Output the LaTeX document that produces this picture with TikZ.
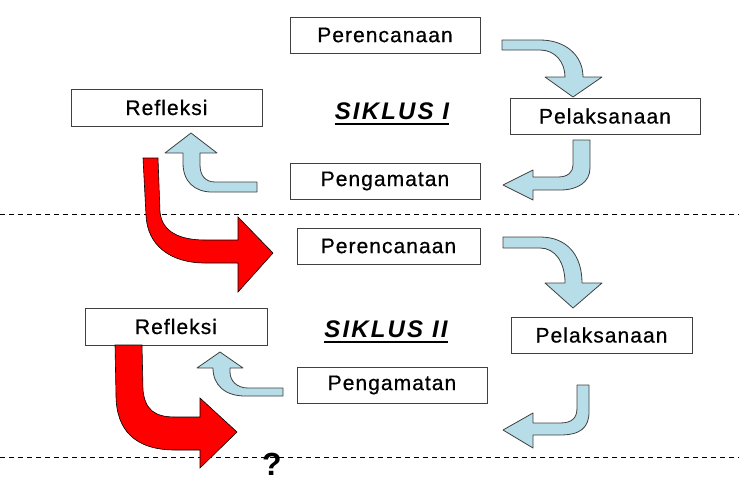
\documentclass[tikz,border=0pt]{standalone}
\usepackage{fontspec}
\setmainfont{Liberation Sans}
\usetikzlibrary{positioning}

\definecolor{lightcyan}{HTML}{B7DEE8}
\definecolor{boxline}{HTML}{404040}

\tikzset{
    box/.style={draw=boxline, line width=1pt, fill=white, inner sep=0pt,
        minimum height=36pt, font=\fontsize{21}{25}\selectfont\addfontfeatures{LetterSpace=5,FakeBold=0.6}},
    bluearrow/.style={draw=boxline, line width=0.8pt, fill=lightcyan, line join=round},
    redarrow/.style={draw=black, line width=0.6pt, fill=red, line join=miter},
    cycletitle/.style={inner sep=0pt,
        font=\fontsize{24}{28}\selectfont\bfseries\itshape\addfontfeatures{LetterSpace=9}},
    titleline/.style={line width=2pt},
    cutline/.style={dashed, dash pattern=on 5pt off 4pt, line width=0.8pt}
}

\begin{document}
\begin{tikzpicture}[x=1pt,y=-1pt]
    \useasboundingbox (0,0) rectangle (739,482);
    % Separators
    \coordinate (cutA west) at (0,214);
    \coordinate (cutA east) at (739,214);
    \coordinate (cutB west) at (0,457);
    \coordinate (cutB east) at (739,457);
    \draw[cutline] (cutA west) -- (cutA east);
    \draw[cutline] (cutB west) -- (cutB east);
    % Siklus I
    \node[box, minimum width=190pt] (per1) at (385,35)    {Perencanaan};
    \node[box, minimum width=190pt] (pel1) at (605,116)   {Pelaksanaan};
    \node[box, minimum width=190pt] (pen1) at (385,181)   {Pengamatan};
    \node[box, minimum width=191pt, minimum height=37pt] (ref1) at (166.5,107.5) {Refleksi};
    \node[cycletitle] (sik1) at (392,111) {SIKLUS I};
    \draw[titleline] ([yshift=-5pt]sik1.base west) -- ([yshift=-5pt]sik1.base east);
    % Siklus II
    \node[box, minimum width=183pt] (per2) at (388.5,246) {Perencanaan};
    \node[box, minimum width=181pt] (pel2) at (601.5,335) {Pelaksanaan};
    \node[box, minimum width=190pt] (pen2) at (392,385)   {Pengamatan};
    \node[box, minimum width=182pt, minimum height=37pt] (ref2) at (176,326.5) {Refleksi};
    \node[cycletitle] (sik2) at (386,329) {SIKLUS II};
    \draw[titleline] ([yshift=-5pt]sik2.base west) -- ([yshift=-5pt]sik2.base east);
    \node[font=\fontsize{32}{36}\selectfont\bfseries, inner sep=0pt] (next) at (272,464) {?};
    % Perencanaan -> Pelaksanaan (I)
    \draw[bluearrow] (502,40) -- (540,40) .. controls (565,40) and (583,55) .. (583,77)
        -- (602,77) -- (573,97) -- (545,77) -- (565,77)
        .. controls (565,62) and (555,50) .. (540,50) -- (502,50) -- cycle;
    % Pelaksanaan -> Pengamatan (I)
    \draw[bluearrow] (573,140) -- (590,140) -- (590,168) .. controls (590,182) and (578,190) .. (560,190)
        -- (533,190) -- (533,200) -- (503,185) -- (533,170) -- (533,177) -- (558,177)
        .. controls (568,177) and (573,172) .. (573,165) -- cycle;
    % Pengamatan -> Refleksi (I)
    \draw[bluearrow] (257,182) -- (215,182) .. controls (205,182) and (200,175) .. (200,165)
        -- (200,153) -- (217,153) -- (191,133) -- (165,153) -- (183,153) -- (183,163)
        .. controls (183,182) and (195,192) .. (212,192) -- (257,192) -- cycle;
    % Refleksi (I) -> Perencanaan (II)
    \draw[redarrow] (143,158) -- (158,158) -- (160,212) .. controls (162,232) and (180,240) .. (205,240)
        -- (238,240) -- (238,217) -- (273,253) -- (238,292) -- (238,263) -- (205,263)
        .. controls (170,263) and (147,245) .. (146,215) -- cycle;
    % Perencanaan -> Pelaksanaan (II)
    \draw[bluearrow] (503,237) -- (540,237) .. controls (567,237) and (582,255) .. (582,283)
        -- (602,283) -- (573,308) -- (545,283) -- (565,283)
        .. controls (565,262) and (555,248) .. (540,248) -- (503,248) -- cycle;
    % Pelaksanaan -> Pengamatan (II)
    \draw[bluearrow] (577,385) -- (589,385) -- (589,412) .. controls (589,428) and (580,435) .. (560,435)
        -- (533,435) -- (533,448) -- (503,430) -- (533,413) -- (533,423) -- (560,423)
        .. controls (572,423) and (577,418) .. (577,408) -- cycle;
    % Pengamatan -> Refleksi (II)
    \draw[bluearrow] (283,388) -- (248,388) .. controls (237,388) and (230,381) .. (230,372)
        -- (230,368) -- (243,368) -- (220,352) -- (197,368) -- (213,368)
        .. controls (213,385) and (225,396) .. (245,396) -- (283,396) -- cycle;
    % Refleksi (II) -> next cycle
    \draw[redarrow] (115,345) -- (142,345) -- (143,390) .. controls (145,410) and (155,417) .. (175,417)
        -- (200,417) -- (200,398) -- (237,432) -- (200,468) -- (200,450) -- (175,450)
        .. controls (135,450) and (116,430) .. (116,395) -- cycle;
\end{tikzpicture}
\end{document}
